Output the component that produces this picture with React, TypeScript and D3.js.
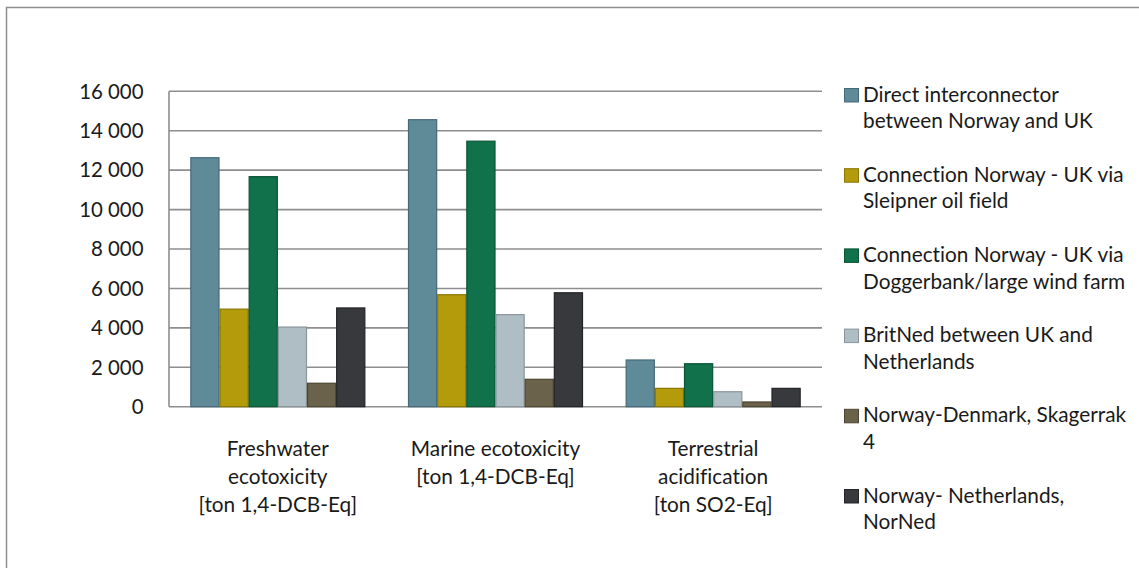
import React from "react";
import * as d3 from "d3";

// Impact categories (x axis), each label split into lines
const categories = ["Freshwater ecotoxicity", "Marine ecotoxicity", "Terrestrial acidification"];
const categoryLines = [
  ["Freshwater", "ecotoxicity", "[ton 1,4-DCB-Eq]"],
  ["Marine ecotoxicity", "[ton 1,4-DCB-Eq]"],
  ["Terrestrial", "acidification", "[ton SO2-Eq]"],
];

// Interconnector alternatives (series)
const seriesNames = [
  "Direct interconnector between Norway and UK",
  "Connection Norway - UK via Sleipner oil field",
  "Connection Norway - UK via Doggerbank/large wind farm",
  "BritNed between UK and Netherlands",
  "Norway-Denmark, Skagerrak 4",
  "Norway- Netherlands, NorNed",
];
const legendLines = [
  ["Direct interconnector", "between Norway and UK"],
  ["Connection Norway - UK via", "Sleipner oil field"],
  ["Connection Norway - UK via", "Doggerbank/large wind farm"],
  ["BritNed between UK and", "Netherlands"],
  ["Norway-Denmark, Skagerrak", "4"],
  ["Norway- Netherlands,", "NorNed"],
];

// Values per series, ordered as the categories
const directNorwayUK = [12630, 14560, 2370];
const sleipner = [4950, 5680, 930];
const doggerbank = [11670, 13470, 2180];
const britNed = [4040, 4670, 760];
const skagerrak4 = [1190, 1390, 240];
const norNed = [5010, 5780, 930];
const seriesValues = [directNorwayUK, sleipner, doggerbank, britNed, skagerrak4, norNed];

const yTicks = [0, 2000, 4000, 6000, 8000, 10000, 12000, 14000, 16000];

const fills = ["#5f8a98", "#b39b0b", "#10714a", "#afbec5", "#6a624a", "#38393d"];
const strokes = ["#45697a", "#8a7600", "#0a5535", "#8a969b", "#4c4530", "#232427"];

const W = 1139;
const H = 568;
const FONT = "Lato, 'Open Sans', sans-serif";
const TEXT = "#1a1a1a";
const GRID = "#8e8e8e";
const FS = 20.8;

const nf = d3.formatLocale({ decimal: ",", thousands: " ", grouping: [3], currency: ["", ""] }).format(",");

export default function App() {
  const x0 = d3
    .scaleBand<string>()
    .domain(categories)
    .range([169, 822])
    .paddingInner(0.196)
    .paddingOuter(0.098);
  const x1 = d3
    .scaleBand<string>()
    .domain(seriesNames)
    .range([0, x0.bandwidth()])
    .padding(0);
  const y = d3.scaleLinear().domain([0, 16000]).range([406.7, 91.3]);

  const plotLeft = 169;
  const plotRight = 822;

  return (
    <svg
      width={W}
      height={H}
      style={{ position: "absolute", left: 0, top: 0, background: "#fff", fontVariantLigatures: "none" }}
      fontFamily={FONT}
    >
      {/* chart frame */}
      <rect x={6.5} y={7.5} width={W + 20} height={H + 20} fill="#fff" stroke={GRID} strokeWidth={1.5} />

      {/* gridlines */}
      {yTicks.map((t) => (
        <line key={t} x1={plotLeft} x2={plotRight} y1={y(t)} y2={y(t)} stroke={GRID} strokeWidth={1.6} />
      ))}
      <line x1={plotLeft} x2={plotLeft} y1={y(16000)} y2={y(0)} stroke={GRID} strokeWidth={1.6} />

      {/* y tick labels */}
      {yTicks.map((t) => (
        <text key={t} x={143.5} y={y(t)} dy="0.36em" textAnchor="end" fontSize={20.4} fill={TEXT}>
          {nf(t)}
        </text>
      ))}

      {/* bars */}
      {categories.map((c, ci) => (
        <g key={c} transform={`translate(${x0(c)},0)`}>
          {seriesNames.map((s, si) => {
            const v = seriesValues[si][ci];
            return (
              <rect
                key={s}
                x={(x1(s) as number) + 0.5}
                y={y(v)}
                width={x1.bandwidth() - 1}
                height={y(0) - y(v)}
                fill={fills[si]}
                stroke={strokes[si]}
                strokeWidth={1.2}
              />
            );
          })}
        </g>
      ))}

      {/* category labels */}
      {categories.map((c, ci) => (
        <text key={c} textAnchor="middle" fontSize={FS} fill={TEXT}>
          {categoryLines[ci].map((ln, li) => (
            <tspan key={li} x={(x0(c) as number) + x0.bandwidth() / 2} y={456 + li * 27.8}>
              {ln}
            </tspan>
          ))}
        </text>
      ))}

      {/* legend */}
      {seriesNames.map((s, si) => {
        const base = 101.5 + si * 80.2;
        return (
          <g key={s}>
            <rect x={844.5} y={base - 13} width={14} height={13.5} fill={fills[si]} stroke={strokes[si]} strokeWidth={1} />
            <text fontSize={FS} fill={TEXT}>
              {legendLines[si].map((ln, li) => (
                <tspan key={li} x={863} y={base + li * 26.6}>
                  {ln}
                </tspan>
              ))}
            </text>
          </g>
        );
      })}
    </svg>
  );
}
